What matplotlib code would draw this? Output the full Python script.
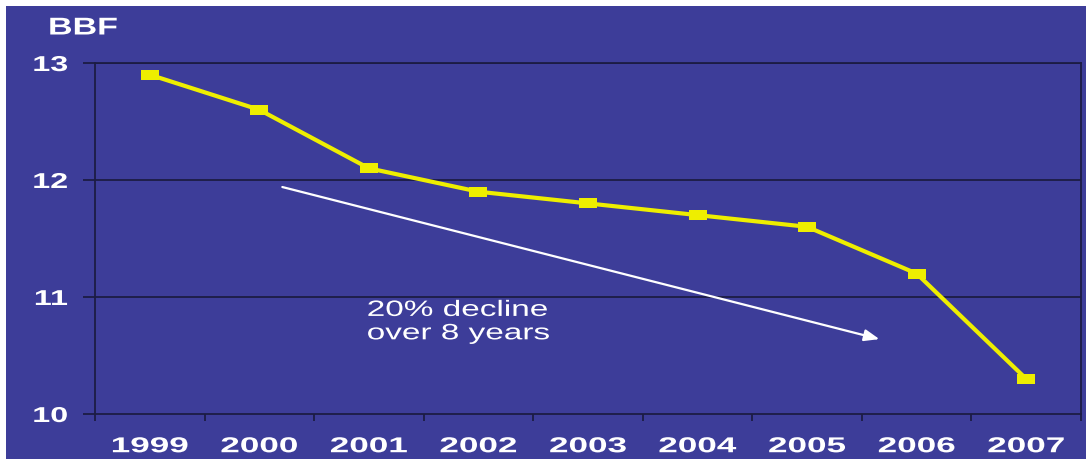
import matplotlib
matplotlib.use("Agg")
import matplotlib.pyplot as plt
from matplotlib.patches import Rectangle
from matplotlib.patheffects import AbstractPathEffect
from matplotlib.transforms import Affine2D
from matplotlib.ticker import FixedLocator, NullFormatter

years = ["1999", "2000", "2001", "2002", "2003", "2004", "2005", "2006", "2007"]
bbf = [12.9, 12.6, 12.1, 11.9, 11.8, 11.7, 11.6, 11.2, 10.3]
y_ticks = [10, 11, 12, 13]

BG = "#3d3d99"
LINE = "#eeee00"
DARK = "#1c1c44"
FONT = ["Liberation Sans", "DejaVu Sans"]


class WideGlyphs(AbstractPathEffect):
    """Draw text glyphs widened horizontally about a chosen anchor."""

    def __init__(self, sx, anchor="center"):
        super().__init__()
        self._sx = sx
        self._anchor = anchor

    def draw_path(self, renderer, gc, tpath, affine, rgbFace=None):
        ext = tpath.get_extents(affine)
        if self._anchor == "left":
            x0 = affine.get_matrix()[0, 2]
        elif self._anchor == "right":
            x0 = ext.x1
        else:
            x0 = 0.5 * (ext.x0 + ext.x1)
        stretch = Affine2D().translate(-x0, 0).scale(self._sx, 1).translate(x0, 0)
        renderer.draw_path(gc, tpath, affine + stretch, rgbFace)


fig = plt.figure(figsize=(10.86, 4.59), dpi=100)
fig.patch.set_facecolor("white")
fig.add_artist(Rectangle((6 / 1086, 0), 1, 1 - 6 / 459, transform=fig.transFigure,
                         facecolor=BG, edgecolor="none", zorder=-10))

ax = fig.add_axes([95 / 1086, 1 - 414 / 459, (1081 - 95) / 1086, (414 - 63) / 459])
ax.set_facecolor(BG)

# wide rectangular markers
box = [(-1, -0.62), (1, -0.62), (1, 0.62), (-1, 0.62), (-1, -0.62)]
x = list(range(len(years)))
ax.plot(x, bbf, color=LINE, lw=3, marker=box, markersize=12.5, markeredgewidth=0,
        markerfacecolor=LINE, zorder=5, clip_on=False)

ax.set_xlim(-0.5, len(years) - 0.5)
ax.set_ylim(10, 13)

for v in y_ticks[1:]:
    ax.axhline(v, color=DARK, lw=1.3, zorder=1)

for s in ax.spines.values():
    s.set_color(DARK)
    s.set_linewidth(1.3)

ax.set_yticks(y_ticks)
ax.set_yticklabels([str(v) for v in y_ticks], fontsize=15.5, fontweight="bold",
                   color="white", family=FONT)
ax.tick_params(axis="y", direction="out", length=8.6, width=1.3, color=DARK, pad=11)
for lab in ax.get_yticklabels():
    lab.set_path_effects([WideGlyphs(1.5, "right")])

ax.set_xticks(x)
ax.set_xticklabels(years, fontsize=15.5, fontweight="bold", color="white", family=FONT)
ax.tick_params(axis="x", which="major", length=0, pad=16)
for lab in ax.get_xticklabels():
    lab.set_path_effects([WideGlyphs(1.63, "center")])
ax.xaxis.set_minor_locator(FixedLocator([i + 0.5 for i in range(-1, len(years))]))
ax.xaxis.set_minor_formatter(NullFormatter())
ax.tick_params(axis="x", which="minor", direction="out", length=5, width=1.3, color=DARK)

ax.annotate("", xy=(6.66, 10.64), xytext=(1.21, 11.94),
            arrowprops=dict(arrowstyle="-|>,head_length=0.9,head_width=0.35",
                            color="white", lw=1.6, shrinkA=0, shrinkB=0), zorder=4)
note = ax.text(1.98, 10.975, "20% decline\nover 8 years", color="white", fontsize=16,
               family=FONT, va="top", ha="left", linespacing=1.15, zorder=4)
note.set_path_effects([WideGlyphs(1.5, "left")])

title = fig.text(48 / 1086, 1 - 28 / 459, "BBF", color="white", fontsize=17.5,
                 fontweight="bold", family=FONT, va="center", ha="left")
title.set_path_effects([WideGlyphs(1.4, "left")])

fig.savefig("out.png", dpi=100, facecolor=fig.get_facecolor())
